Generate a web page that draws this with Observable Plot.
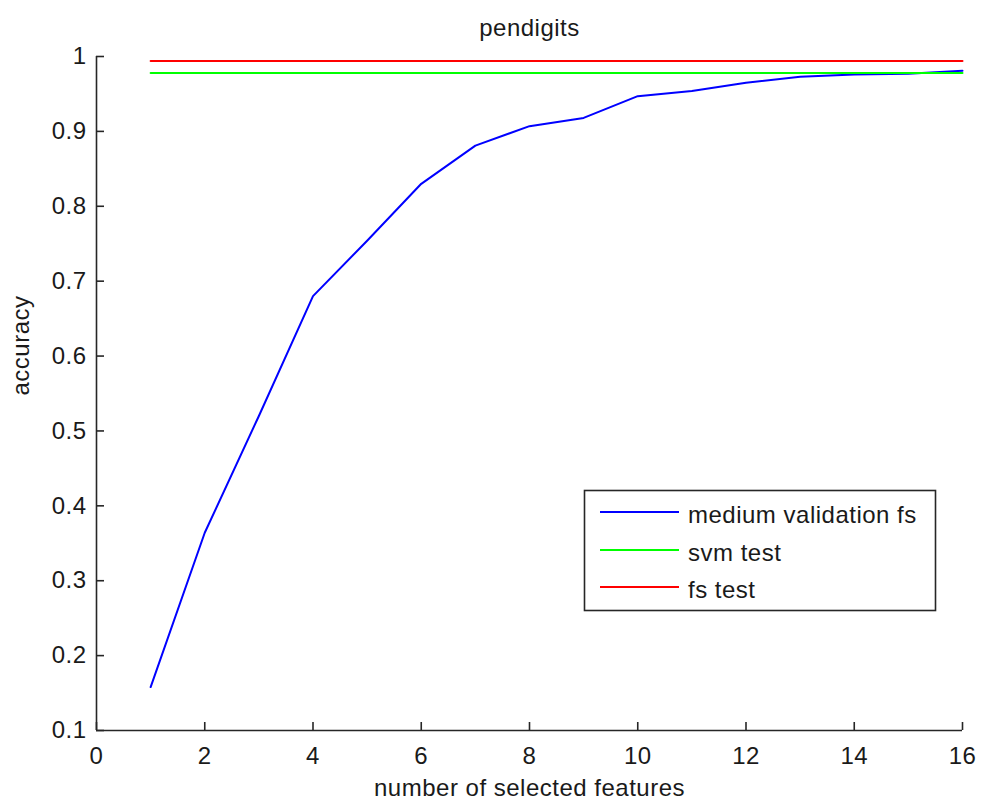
<!DOCTYPE html>
<html>
<head>
<meta charset="utf-8">
<script src="https://cdn.jsdelivr.net/npm/d3@7"></script>
<script src="https://cdn.jsdelivr.net/npm/@observablehq/plot@0.6"></script>
<style>
  body { margin: 0; background: #fff; }
  #chart { width: 982px; height: 799px; }
  #chart svg text { letter-spacing: 0.5px; }
</style>
</head>
<body>
<div id="chart"></div>
<script>
// ---- data ----
const features = [1, 2, 3, 4, 5, 6, 7, 8, 9, 10, 11, 12, 13, 14, 15, 16];
const mediumValidationFs = [0.158, 0.364, 0.520, 0.680, 0.754, 0.830, 0.881, 0.907, 0.918, 0.947, 0.954, 0.965, 0.973, 0.976, 0.977, 0.981];
const svmTest = 0.978;
const fsTest = 0.994;
const xTicks = [0, 2, 4, 6, 8, 10, 12, 14, 16];
const yTicks = [0.1, 0.2, 0.3, 0.4, 0.5, 0.6, 0.7, 0.8, 0.9, 1];
const seriesNames = ["medium validation fs", "svm test", "fs test"];
const seriesColors = ["#0000ff", "#00ff00", "#ff0000"];
const titleText = "pendigits";
const xLabel = "number of selected features";
const yLabel = "accuracy";

// ---- tables ----
const blueData = features.map((f, i) => ({x: f, y: mediumValidationFs[i]}));
const greenData = features.map(f => ({x: f, y: svmTest}));
const redData = features.map(f => ({x: f, y: fsTest}));

const W = 982, H = 799;
const mL = 96, mR = 20, mT = 56, mB = 69;
const frameW = W - mL - mR, frameH = H - mT - mB;
const tickLen = 8;
const axisColor = "#262626";
const font = "'Liberation Sans', Arial, sans-serif";

const plot = Plot.plot({
  width: W, height: H,
  marginLeft: mL, marginRight: mR, marginTop: mT, marginBottom: mB,
  style: {fontFamily: font, fontSize: "24px", color: "#1a1a1a", background: "#fff", overflow: "visible"},
  x: {domain: [0, 16]},
  y: {domain: [0.1, 1]},
  marks: [
    Plot.axisX({ticks: xTicks, tickSize: 0, tickPadding: 16, label: null, tickFormat: d3.format("~g"), fill: "#1a1a1a"}),
    Plot.axisY({ticks: yTicks, tickSize: 0, tickPadding: 10, label: null, tickFormat: d3.format("~g"), fill: "#1a1a1a"}),
    Plot.ruleX(xTicks, {x: d => d, insetTop: frameH - tickLen, stroke: axisColor, strokeWidth: 1.6}),
    Plot.ruleY(yTicks, {y: d => d, insetRight: frameW - tickLen, stroke: axisColor, strokeWidth: 1.6}),
    Plot.ruleY([0.1], {stroke: axisColor, strokeWidth: 1.6}),
    Plot.ruleX([0], {stroke: axisColor, strokeWidth: 1.6}),
    Plot.line(blueData, {x: "x", y: "y", stroke: seriesColors[0], strokeWidth: 2}),
    Plot.line(greenData, {x: "x", y: "y", stroke: seriesColors[1], strokeWidth: 2}),
    Plot.line(redData, {x: "x", y: "y", stroke: seriesColors[2], strokeWidth: 2}),
    Plot.text([titleText], {text: d => d, frameAnchor: "top", dy: -21, lineAnchor: "bottom", fill: "#1a1a1a"}),
    Plot.text([xLabel], {text: d => d, frameAnchor: "bottom", dy: 65, lineAnchor: "bottom", fill: "#1a1a1a"}),
    Plot.text([yLabel], {text: d => d, frameAnchor: "left", rotate: -90, dx: -68, dy: 2, lineAnchor: "bottom", fill: "#1a1a1a"})
  ]
});

// ---- legend (inside plot area) ----
const svg = d3.select(plot);
const lg = svg.append("g")
  .attr("font-family", font).attr("font-size", 24).attr("text-anchor", "start");
const box = {x: 584, y: 490, w: 351, h: 120};
lg.append("rect")
  .attr("x", box.x + 0.5).attr("y", box.y + 0.5)
  .attr("width", box.w).attr("height", box.h)
  .attr("fill", "#fff").attr("stroke", axisColor).attr("stroke-width", 1.6);
const rowY = [512, 550, 587];
seriesNames.forEach((name, i) => {
  lg.append("line")
    .attr("x1", 600).attr("x2", 679)
    .attr("y1", rowY[i]).attr("y2", rowY[i])
    .attr("stroke", seriesColors[i]).attr("stroke-width", 2);
  lg.append("text")
    .attr("x", 688).attr("y", rowY[i] + 11)
    .attr("text-anchor", "start")
    .attr("fill", "#1a1a1a")
    .text(name);
});

document.getElementById("chart").appendChild(plot);
</script>
</body>
</html>
